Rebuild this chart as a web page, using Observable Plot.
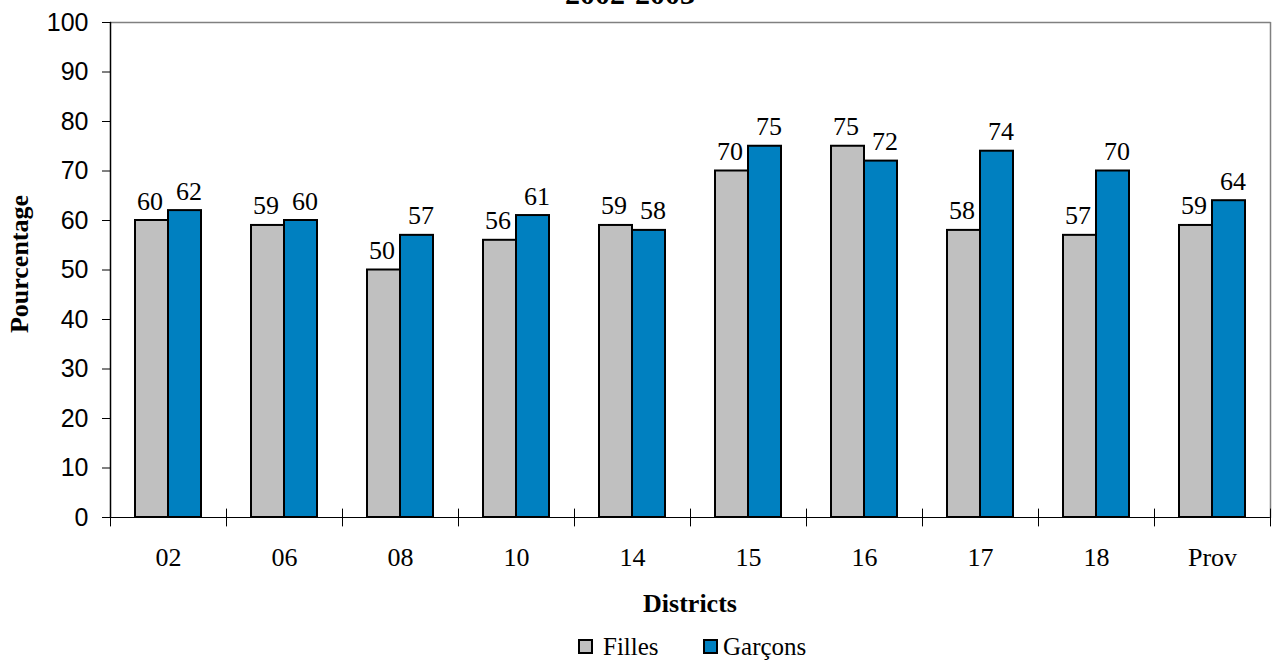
<!DOCTYPE html>
<html>
<head>
<meta charset="utf-8">
<script src="https://cdn.jsdelivr.net/npm/d3@7"></script>
<script src="https://cdn.jsdelivr.net/npm/@observablehq/plot@0.6"></script>
<style>
  html, body { margin: 0; padding: 0; background: white; overflow: hidden; }
  #wrap { position: relative; width: 1277px; height: 660px; }
  #chart { position: absolute; left: 0; top: 0; }
  .serif { font-family: "Liberation Serif", "Times New Roman", serif; color: black; position: absolute; white-space: nowrap; }
  #title { font-weight: bold; font-size: 30px; line-height: 30px; left: 530px; width: 200px; text-align: center; top: -21px; }
  #ylabel { font-weight: bold; font-size: 26px; line-height: 26px; left: 20px; top: 264px; transform: translate(-50%, -50%) rotate(-90deg); }
  #xlabel { font-weight: bold; font-size: 26px; line-height: 26px; left: 590px; width: 200px; text-align: center; top: 591px; }
  #legend { position: absolute; top: 634px; left: 0; width: 1277px; height: 26px; }
  .sw { position: absolute; top: 5px; width: 11px; height: 11px; border: 2px solid black; }
  .lt { font-size: 25px; line-height: 25px; top: 0; }
</style>
</head>
<body>
<div id="wrap">
  <div id="chart"></div>
  <div id="title" class="serif">2002-2003</div>
  <div id="ylabel" class="serif">Pourcentage</div>
  <div id="xlabel" class="serif">Districts</div>
  <div id="legend"></div>
</div>
<script>
const districts = ["02", "06", "08", "10", "14", "15", "16", "17", "18", "Prov"];
const filles = [60, 59, 50, 56, 59, 70, 75, 58, 57, 59];
const garcons = [62, 60, 57, 61, 58, 75, 72, 74, 70, 64];
const series = ["Filles", "Garçons"];
const colors = ["#C0C0C0", "#0080C0"];
const yTicks = [0, 10, 20, 30, 40, 50, 60, 70, 80, 90, 100];

const rows = districts.flatMap((d, i) => [
  {district: d, series: series[0], value: filles[i]},
  {district: d, series: series[1], value: garcons[i]}
]);

const W = 1277, H = 580, MT = 22, MB = 63, ML = 105, MR = 3;
const plotH = H - MT - MB;
const line = {draw(context, l) { context.moveTo(0, 0); context.lineTo(0, -l); }};
const serif = "'Liberation Serif', 'Times New Roman', serif";
const sans = "'Liberation Sans', Arial, sans-serif";

const chart = Plot.plot({
  width: W, height: H,
  marginTop: MT, marginBottom: MB, marginLeft: ML, marginRight: MR,
  style: {fontFamily: serif, color: "black", background: "white", overflow: "visible"},
  fx: {domain: districts, paddingInner: 0, paddingOuter: 0},
  x: {domain: series, paddingInner: 0, paddingOuter: 0.72, axis: null},
  y: {domain: [0, 100]},
  color: {domain: series, range: colors},
  marks: [
    Plot.ruleY([100], {stroke: "#808080", strokeWidth: 1.5}),
    Plot.barY(rows, {fx: "district", x: "series", y: "value", fill: "series", stroke: "black", strokeWidth: 2}),
    Plot.ruleY([0], {stroke: "black", strokeWidth: 1.2}),
    Plot.vector([districts[0]], {fx: d => d, frameAnchor: "bottom-left", length: plotH, anchor: "start", shape: line, stroke: "black", strokeWidth: 1.5}),
    Plot.vector([districts[districts.length - 1]], {fx: d => d, frameAnchor: "bottom-right", length: plotH, anchor: "start", shape: line, stroke: "#808080", strokeWidth: 1.5}),
    Plot.vector([0], {frameAnchor: "bottom-left", length: 17, anchor: "middle", shape: line, stroke: "black", strokeWidth: 1}),
    Plot.vector([districts[districts.length - 1]], {fx: d => d, frameAnchor: "bottom-right", length: 17, anchor: "middle", shape: line, stroke: "black", strokeWidth: 1}),
    Plot.axisY(yTicks, {anchor: "left", tickSize: 8, tickPadding: 14, fontFamily: sans, fontSize: 25, label: null, stroke: "black"}),
    Plot.axisFx({anchor: "bottom", tickSize: 0, tickPadding: 30, fontFamily: serif, fontSize: 26, label: null}),
    Plot.text(rows.filter(r => r.series === series[0]), {fx: "district", x: "series", y: "value", text: "value", lineAnchor: "bottom", dy: -11, dx: -2, fontFamily: serif, fontSize: 26, fill: "black"}),
    Plot.text(rows.filter(r => r.series === series[1]), {fx: "district", x: "series", y: "value", text: "value", lineAnchor: "bottom", dy: -11, dx: 4, fontFamily: serif, fontSize: 26, fill: "black"})
  ]
});
document.getElementById("chart").appendChild(chart);

// legend
const legend = document.getElementById("legend");
const legendPos = [{sw: 578, tx: 603}, {sw: 703, tx: 723}];
series.forEach((s, i) => {
  const sw = document.createElement("div");
  sw.className = "sw";
  sw.style.left = legendPos[i].sw + "px";
  sw.style.background = colors[i];
  legend.appendChild(sw);
  const t = document.createElement("div");
  t.className = "serif lt";
  t.style.left = legendPos[i].tx + "px";
  t.style.fontFamily = serif;
  t.textContent = s;
  legend.appendChild(t);
});
</script>
</body>
</html>
